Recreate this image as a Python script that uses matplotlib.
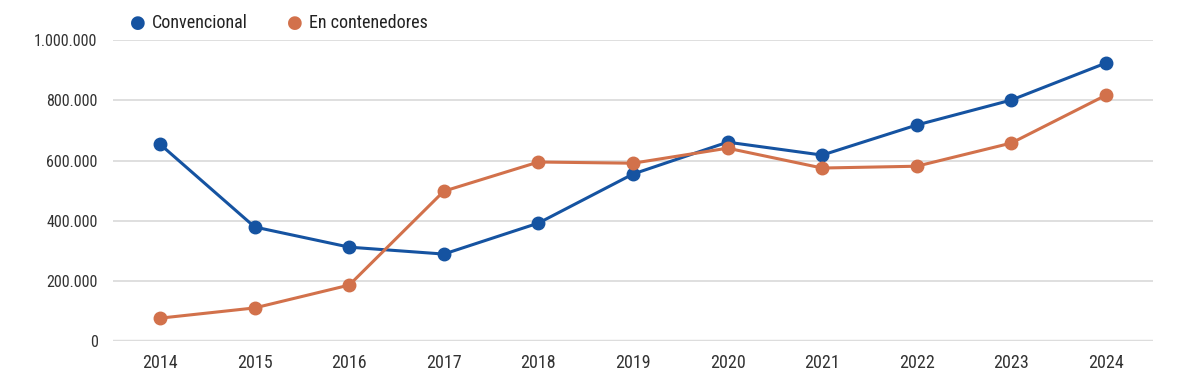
import matplotlib.pyplot as plt
from matplotlib import font_manager
from matplotlib.ticker import FuncFormatter

years = [2014, 2015, 2016, 2017, 2018, 2019, 2020, 2021, 2022, 2023, 2024]
convencional = [654000, 379000, 312000, 289000, 392000, 555000, 661000, 618000, 718000, 801000, 924000]
contenedores = [76000, 110000, 186000, 498000, 595000, 591000, 641000, 575000, 581000, 658000, 817000]
y_ticks = [0, 200000, 400000, 600000, 800000, 1000000]

BLUE = "#1553a1"
ORANGE = "#d2714b"

names = {f.name for f in font_manager.fontManager.ttflist}
for fam in ["Roboto Condensed", "Liberation Sans Narrow", "Roboto", "DejaVu Sans"]:
    if fam in names:
        plt.rcParams["font.family"] = [fam, "DejaVu Sans"]
        break

fig = plt.figure(figsize=(12, 3.9), dpi=100)
ax = fig.add_axes([0.094, 0.1256, 0.867, 0.7714])

x = list(range(len(years)))
ax.plot(x, convencional, color=BLUE, lw=2.2, marker="o", ms=9, clip_on=False, zorder=3)
ax.plot(x, contenedores, color=ORANGE, lw=2.2, marker="o", ms=9, clip_on=False, zorder=3)

ax.set_xlim(-0.5, len(years) - 0.5)
ax.set_ylim(0, 1000000)
ax.set_xticks(x, [str(y) for y in years])
ax.set_yticks(y_ticks)
ax.yaxis.set_major_formatter(FuncFormatter(lambda v, _: f"{int(v):,}".replace(",", ".")))

ax.grid(axis="y", color="#d9d9d9", lw=1.2)
ax.set_axisbelow(True)
for s in ax.spines.values():
    s.set_visible(False)
ax.axhline(0, color="#dddddd", lw=2.5, zorder=1)
ax.tick_params(length=0, colors="#333333")
ax.tick_params(axis="x", pad=9, labelsize=13)
ax.tick_params(axis="y", pad=11, labelsize=11.5)

# legend
for lx, label, col in [(0.115, "Convencional", BLUE), (0.246, "En contenedores", ORANGE)]:
    fig.text(lx, 0.942, "\u25cf", color=col, fontsize=13, ha="center", va="center", family="DejaVu Sans")
    fig.text(lx + 0.0115, 0.942, label, color="#222222", fontsize=13, ha="left", va="center")

fig.savefig("out.png", dpi=100)
